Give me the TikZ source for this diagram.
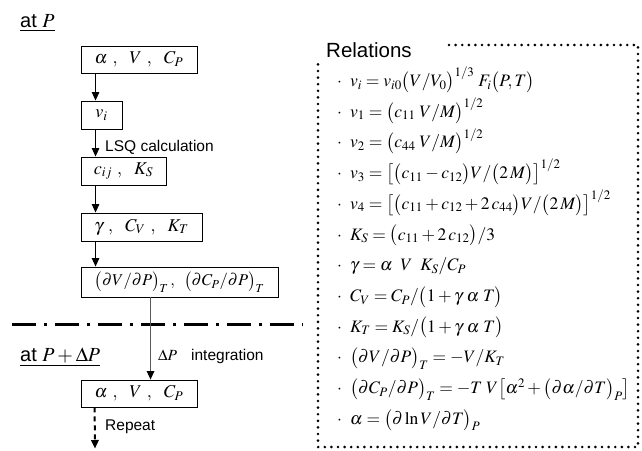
\documentclass[tikz,border=0pt]{standalone}
\usepackage{mathptmx}
\usepackage[no-math]{fontspec}
\setmainfont{Liberation Sans}
\usetikzlibrary{arrows.meta}
\tikzset{
  box/.style={draw, line width=0.9pt, inner sep=0pt, font=\fontsize{18}{20}\selectfont},
  arr/.style={line width=1.1pt, -{Triangle[width=7.5pt,length=8.5pt]}},
  lab/.style={font=\fontsize{15.5}{18}\selectfont, inner sep=0pt, anchor=base west},
  ttl/.style={font=\fontsize{20}{23}\selectfont, inner sep=0pt, anchor=base west},
  rel/.style={font=\fontsize{17.5}{20}\selectfont, inner sep=0pt, anchor=base west},
  dotframe/.style={line width=2.9pt, line cap=round, dash pattern=on 0pt off 6.6pt},
  dashdot/.style={line width=3pt, dash pattern=on 24pt off 8pt on 3pt off 8pt}
}
\newcommand{\bul}{\makebox[13pt][l]{$\cdot$}}
\begin{document}
\begin{tikzpicture}[x=1pt, y=-1pt]
\useasboundingbox (0,0) rectangle (642,450);
% titles
\node[ttl] (atP) at (20,27) {\underline{at $P$}};
\node[ttl] (atPdP) at (20,361) {\underline{at $P+\Delta P$}};
% separator
\draw[dashdot] (12,324) -- (303,324);
% boxes
\node[box, minimum width=116pt, minimum height=27pt] (b1) at (139,59.5) {$\alpha\ ,\ \ V\ ,\ \ C_P$};
\node[box, minimum width=41pt, minimum height=28pt] (b2) at (101.5,115) {$v_i$};
\node[box, minimum width=85pt, minimum height=28pt] (b3) at (123.5,171) {$c_{ij}\ ,\ \ K_S$};
\node[box, minimum width=121pt, minimum height=28pt] (b4) at (141.5,227) {$\gamma\ ,\ \ C_V\ ,\ \ K_T$};
\node[box, minimum width=197pt, minimum height=30pt, font=\fontsize{16.5}{18}\selectfont] (b5) at (179.5,282) {$\bigl(\partial V/\partial P\bigr)_T\,,\;\;\bigl(\partial C_P/\partial P\bigr)_T$};
\node[box, minimum width=116pt, minimum height=27pt] (b6) at (139,393.5) {$\alpha\ ,\ \ V\ ,\ \ C_P$};
\coordinate (rend) at (95,448.5);
% arrows
\draw[arr] ([xshift=15pt]b1.south west) -- ([xshift=15pt]b2.north west);
\draw[arr] ([xshift=15pt]b2.south west) -- ([xshift=15pt]b3.north west);
\draw[arr] ([xshift=15pt]b3.south west) -- ([xshift=15pt]b4.north west);
\draw[arr] ([xshift=15pt]b4.south west) -- ([xshift=15pt]b5.north west);
\draw[arr, draw=black!65, -{Triangle[width=7.5pt,length=8.5pt,black]}] ([xshift=70pt]b5.south west) -- ([xshift=70pt]b6.north west);
\draw[arr, line width=2pt, dash pattern=on 5pt off 4pt] ([xshift=14pt]b6.south west) -- (rend);
% arrow labels
\node[lab] (lsq) at (105,151) {LSQ calculation};
\node[lab] (integ) at (158,360) {$\Delta P$\hspace{14pt}integration};
\node[lab] (rep) at (105,430) {Repeat};
% relations
\node[font=\fontsize{20.5}{23}\selectfont, inner sep=0pt, anchor=base west] (reltitle) at (326,57) {Relations};
\draw[dotframe] (449,45) -- (638,45) -- (638,447) -- (318,447) -- (318,62);
\node[rel] (r1) at (337,86.5) {\bul$v_i = v_{i0}\bigl(V/V_0\bigr)^{1/3}\;F_i\bigl(P,T\bigr)$};
\node[rel] (r2) at (337,117.2) {\bul$v_1 = \bigl(c_{11}\;V/M\bigr)^{1/2}$};
\node[rel] (r3) at (337,147.9) {\bul$v_2 = \bigl(c_{44}\;V/M\bigr)^{1/2}$};
\node[rel] (r4) at (337,178.6) {\bul$v_3 = \bigl[\bigl(c_{11}-c_{12}\bigr)V/\bigl(2\,M\bigr)\bigr]^{1/2}$};
\node[rel] (r5) at (337,209.3) {\bul$v_4 = \bigl[\bigl(c_{11}+c_{12}+2\,c_{44}\bigr)V/\bigl(2\,M\bigr)\bigr]^{1/2}$};
\node[rel] (r6) at (337,240.0) {\bul$K_S = \bigl(c_{11}+2\,c_{12}\bigr)/3$};
\node[rel] (r7) at (337,270.7) {\bul$\gamma = \alpha\;\;V\;\;K_S/C_P$};
\node[rel] (r8) at (337,301.4) {\bul$C_V = C_P/\bigl(1+\gamma\;\alpha\;T\bigr)$};
\node[rel] (r9) at (337,332.1) {\bul$K_T = K_S/\bigl(1+\gamma\;\alpha\;T\bigr)$};
\node[rel] (r10) at (337,362.8) {\bul$\bigl(\partial V/\partial P\bigr)_T = -V/K_T$};
\node[rel] (r11) at (337,393.5) {\bul$\bigl(\partial C_P/\partial P\bigr)_T = -T\;V\bigl[\alpha^2+\bigl(\partial\alpha/\partial T\bigr)_P\bigr]$};
\node[rel] (r12) at (337,424.2) {\bul$\alpha = \bigl(\partial\ln V/\partial T\bigr)_P$};
\end{tikzpicture}
\end{document}
